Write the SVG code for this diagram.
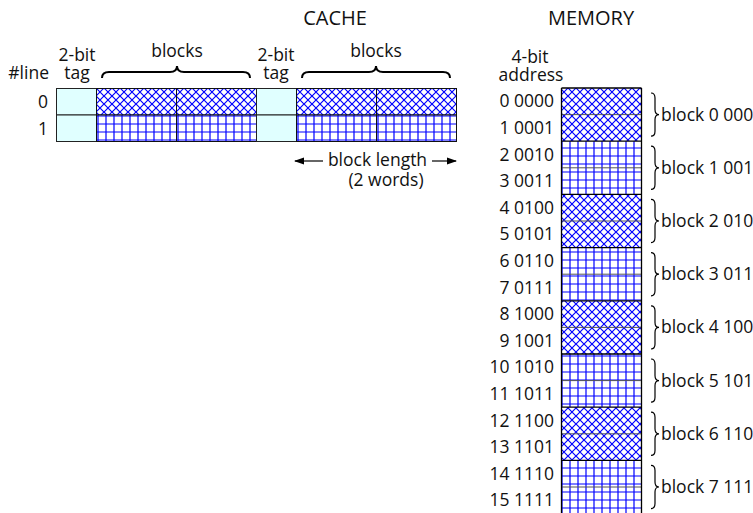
<svg xmlns="http://www.w3.org/2000/svg" width="753" height="513" viewBox="0 0 753 513">
<style>
text{font-family:"Open Sans","Noto Sans",sans-serif;font-size:17.5px;fill:#111}
.c{text-anchor:middle}
.e{text-anchor:end}
.t{font-size:20px}
.tag{fill:#e0ffff;stroke:#222;stroke-width:1}
.cell{stroke:#111;stroke-width:1}
.xh{fill:url(#xh)}
.gr{fill:url(#gr)}
.hb{fill:none;stroke:#000;stroke-width:2}
.vb{fill:none;stroke:#000;stroke-width:1.2}
.wd{stroke:#555;stroke-width:1}
.bd{stroke:#000;stroke-width:1.3}
.arr{stroke:#000;stroke-width:1.2;fill:none}
</style>
<defs>
<pattern id="xh" width="8" height="8" patternUnits="userSpaceOnUse">
<rect width="8" height="8" fill="#fff"/>
<path d="M0,0 L8,8 M8,0 L0,8" stroke="#0000ff" stroke-width="1.2"/>
</pattern>
<pattern id="gr" width="8" height="8" patternUnits="userSpaceOnUse">
<rect width="8" height="8" fill="#fff"/>
<path d="M2,0 V8 M0,4 H8" stroke="#0000ff" stroke-width="1.2"/>
</pattern>
<marker id="ah" markerWidth="10" markerHeight="8" refX="9" refY="4" orient="auto" markerUnits="userSpaceOnUse">
<path d="M0,0.5 L10,4 L0,7.5 Z" fill="#000"/>
</marker>
</defs>

<g id="titles">
<text class="c t" x="335" y="25">CACHE</text>
<text class="c t" x="591" y="25">MEMORY</text>
</g>

<g id="cache-headers">
<text class="e" x="49" y="79">#line</text>
<text class="c" x="77" y="61">2-bit</text>
<text class="c" x="77" y="79">tag</text>
<text class="c" x="177" y="57">blocks</text>
<text class="c" x="276" y="61">2-bit</text>
<text class="c" x="276" y="79">tag</text>
<text class="c" x="376" y="57">blocks</text>
<text class="e" x="48" y="108">0</text>
<text class="e" x="48" y="135">1</text>
</g>

<g id="cache-braces">
<path class="hb" d="M102,78 q0,-6 7,-6 H170 q7,0 7,-6 q0,6 7,6 H243 q7,0 7,6"/>
<path class="hb" d="M302,78 q0,-6 7,-6 H369 q7,0 7,-6 q0,6 7,6 H443 q7,0 7,6"/>
</g>

<g id="cache">
<rect class="tag" x="56.5" y="88.5" width="40" height="26.5"/>
<rect class="tag" x="56.5" y="115" width="40" height="26.5"/>
<rect class="cell xh" x="96.5" y="88.5" width="80" height="26.5"/>
<rect class="cell xh" x="176.5" y="88.5" width="80" height="26.5"/>
<rect class="cell gr" x="96.5" y="115" width="80" height="26.5"/>
<rect class="cell gr" x="176.5" y="115" width="80" height="26.5"/>
<rect class="tag" x="256.5" y="88.5" width="40" height="26.5"/>
<rect class="tag" x="256.5" y="115" width="40" height="26.5"/>
<rect class="cell xh" x="296.5" y="88.5" width="80" height="26.5"/>
<rect class="cell xh" x="376.5" y="88.5" width="80" height="26.5"/>
<rect class="cell gr" x="296.5" y="115" width="80" height="26.5"/>
<rect class="cell gr" x="376.5" y="115" width="80" height="26.5"/>
</g>

<g id="block-length">
<line class="arr" x1="323" y1="161" x2="295" y2="161" marker-end="url(#ah)"/>
<line class="arr" x1="432" y1="161" x2="456" y2="161" marker-end="url(#ah)"/>
<text class="c" x="377.5" y="166">block length</text>
<text class="c" x="386" y="186">(2 words)</text>
</g>

<g id="memory-header">
<text class="c" x="530" y="63">4-bit</text>
<text class="c" x="531" y="81">address</text>
</g>

<g id="memory">
<rect class="xh" x="561.5" y="88" width="80" height="53.2"/>
<rect class="gr" x="561.5" y="141.2" width="80" height="53.2"/>
<rect class="xh" x="561.5" y="194.4" width="80" height="53.2"/>
<rect class="gr" x="561.5" y="247.6" width="80" height="53.2"/>
<rect class="xh" x="561.5" y="300.8" width="80" height="53.2"/>
<rect class="gr" x="561.5" y="354" width="80" height="53.2"/>
<rect class="xh" x="561.5" y="407.2" width="80" height="53.2"/>
<rect class="gr" x="561.5" y="460.4" width="80" height="60"/>
<g class="wd">
<line x1="561.5" y1="114.6" x2="641.5" y2="114.6"/>
<line x1="561.5" y1="167.8" x2="641.5" y2="167.8"/>
<line x1="561.5" y1="221" x2="641.5" y2="221"/>
<line x1="561.5" y1="274.2" x2="641.5" y2="274.2"/>
<line x1="561.5" y1="327.4" x2="641.5" y2="327.4"/>
<line x1="561.5" y1="380.6" x2="641.5" y2="380.6"/>
<line x1="561.5" y1="433.8" x2="641.5" y2="433.8"/>
<line x1="561.5" y1="487" x2="641.5" y2="487"/>
</g>
<g class="bd">
<line x1="561.5" y1="88" x2="641.5" y2="88"/>
<line x1="561.5" y1="141.2" x2="641.5" y2="141.2"/>
<line x1="561.5" y1="194.4" x2="641.5" y2="194.4"/>
<line x1="561.5" y1="247.6" x2="641.5" y2="247.6"/>
<line x1="561.5" y1="300.8" x2="641.5" y2="300.8"/>
<line x1="561.5" y1="354" x2="641.5" y2="354"/>
<line x1="561.5" y1="407.2" x2="641.5" y2="407.2"/>
<line x1="561.5" y1="460.4" x2="641.5" y2="460.4"/>
<line x1="561.5" y1="88" x2="561.5" y2="520"/>
<line x1="641.5" y1="88" x2="641.5" y2="520"/>
</g>
</g>

<g id="addresses">
<text class="e" x="554" y="107.3">0 0000</text>
<text class="e" x="554" y="133.9">1 0001</text>
<text class="e" x="554" y="160.5">2 0010</text>
<text class="e" x="554" y="187.1">3 0011</text>
<text class="e" x="554" y="213.7">4 0100</text>
<text class="e" x="554" y="240.3">5 0101</text>
<text class="e" x="554" y="266.9">6 0110</text>
<text class="e" x="554" y="293.5">7 0111</text>
<text class="e" x="554" y="320.1">8 1000</text>
<text class="e" x="554" y="346.7">9 1001</text>
<text class="e" x="554" y="373.3">10 1010</text>
<text class="e" x="554" y="399.9">11 1011</text>
<text class="e" x="554" y="426.5">12 1100</text>
<text class="e" x="554" y="453.1">13 1101</text>
<text class="e" x="554" y="479.7">14 1110</text>
<text class="e" x="554" y="506.3">15 1111</text>
</g>

<g id="memory-braces">
<path class="vb" d="M651,93 q4,0 4,5 v11.6 q0,5 4,5 q-4,0 -4,5 v11.6 q0,5 -4,5"/>
<path class="vb" d="M651,146.2 q4,0 4,5 v11.6 q0,5 4,5 q-4,0 -4,5 v11.6 q0,5 -4,5"/>
<path class="vb" d="M651,199.4 q4,0 4,5 v11.6 q0,5 4,5 q-4,0 -4,5 v11.6 q0,5 -4,5"/>
<path class="vb" d="M651,252.6 q4,0 4,5 v11.6 q0,5 4,5 q-4,0 -4,5 v11.6 q0,5 -4,5"/>
<path class="vb" d="M651,305.8 q4,0 4,5 v11.6 q0,5 4,5 q-4,0 -4,5 v11.6 q0,5 -4,5"/>
<path class="vb" d="M651,359 q4,0 4,5 v11.6 q0,5 4,5 q-4,0 -4,5 v11.6 q0,5 -4,5"/>
<path class="vb" d="M651,412.2 q4,0 4,5 v11.6 q0,5 4,5 q-4,0 -4,5 v11.6 q0,5 -4,5"/>
<path class="vb" d="M651,465.4 q4,0 4,5 v11.6 q0,5 4,5 q-4,0 -4,5 v11.6 q0,5 -4,5"/>
</g>

<g id="block-labels">
<text x="661" y="120.6">block 0 000</text>
<text x="661" y="173.8">block 1 001</text>
<text x="661" y="227">block 2 010</text>
<text x="661" y="280.2">block 3 011</text>
<text x="661" y="333.4">block 4 100</text>
<text x="661" y="386.6">block 5 101</text>
<text x="661" y="439.8">block 6 110</text>
<text x="661" y="493">block 7 111</text>
</g>
</svg>
